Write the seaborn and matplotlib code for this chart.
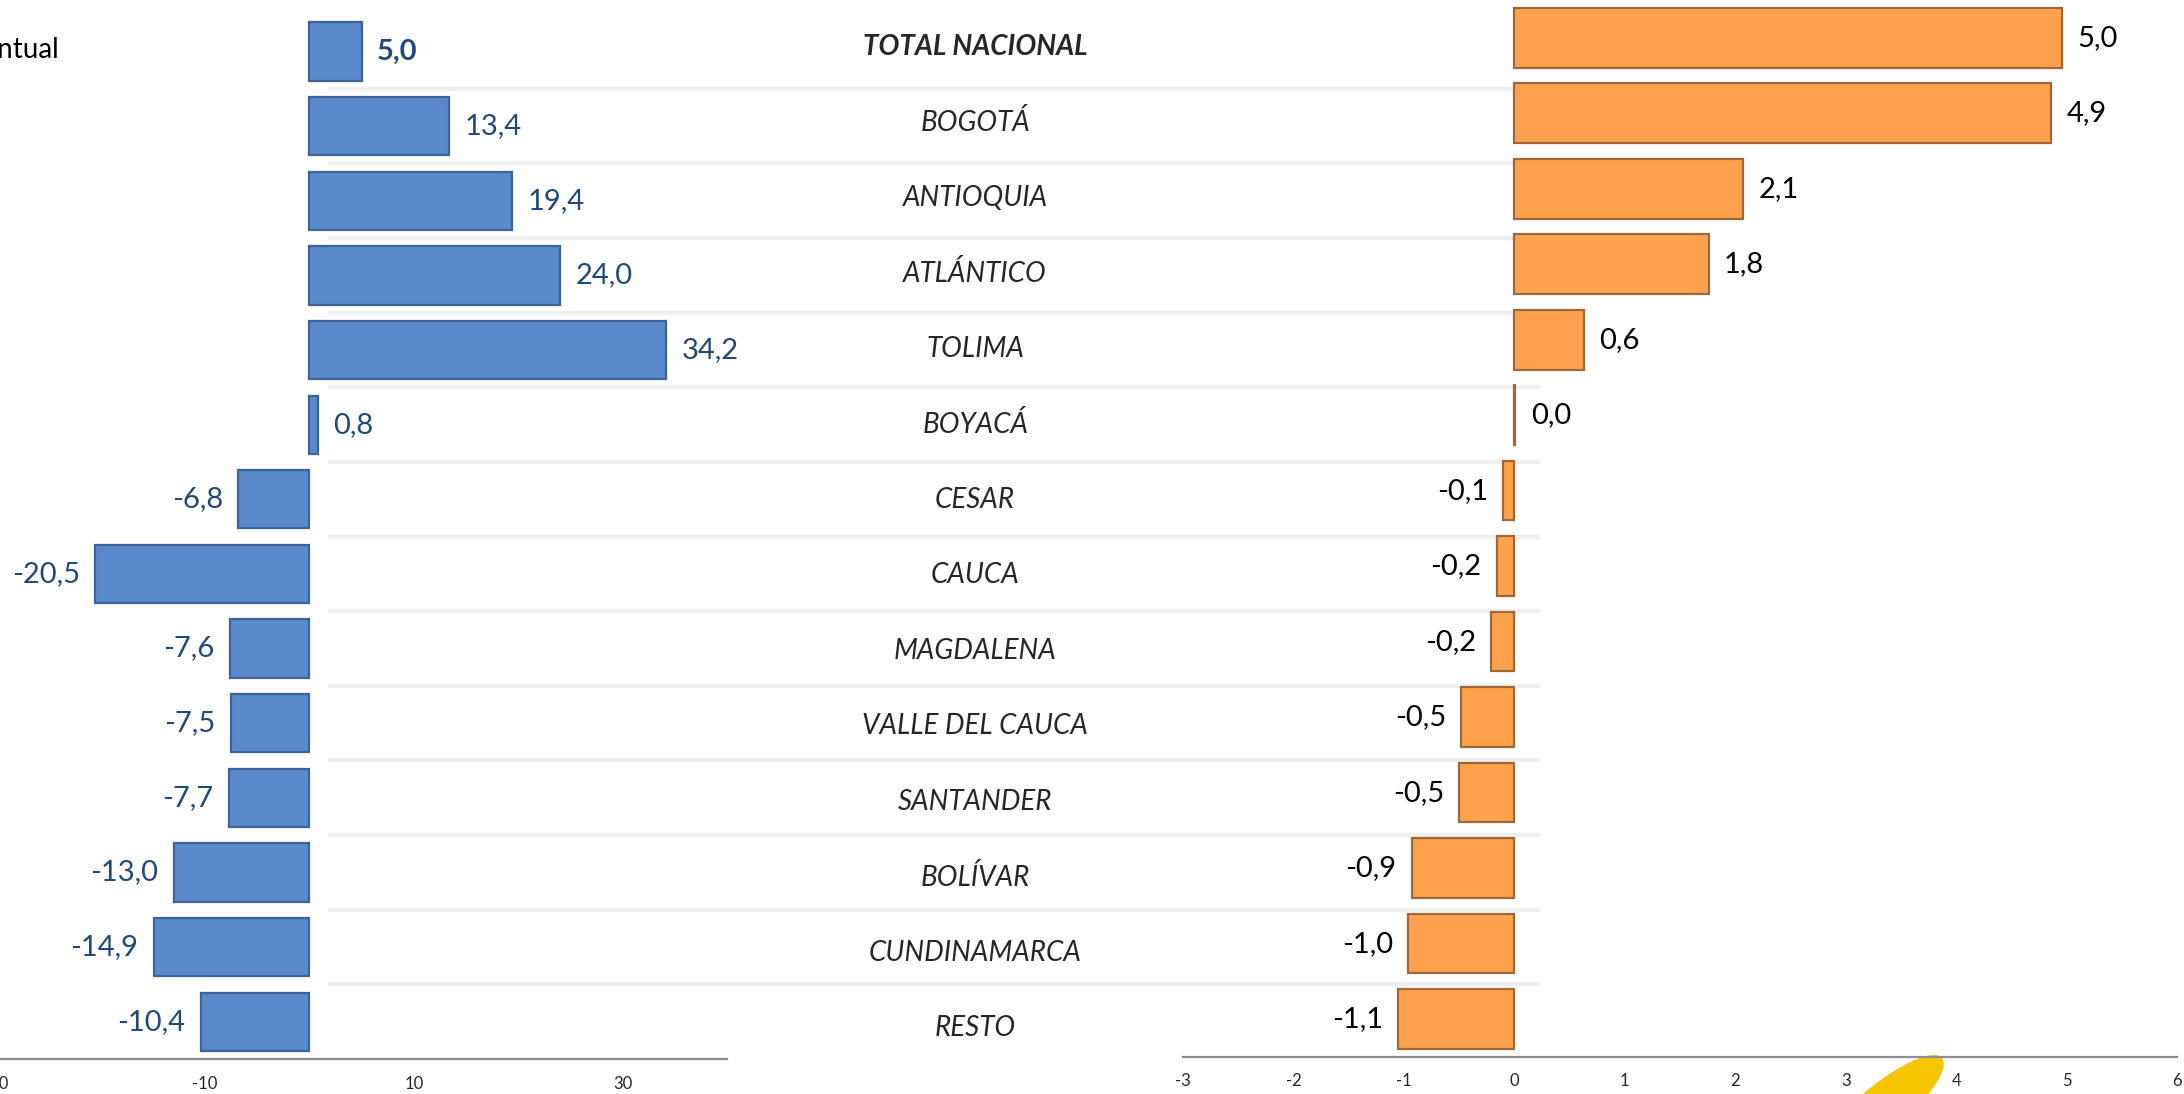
import matplotlib
matplotlib.use("Agg")

import matplotlib.pyplot as plt
import matplotlib.transforms as mtransforms
from matplotlib.patches import Ellipse
import seaborn as sns
import pandas as pd

regions = ["TOTAL NACIONAL", "BOGOTÁ", "ANTIOQUIA", "ATLÁNTICO", "TOLIMA", "BOYACÁ",
           "CESAR", "CAUCA", "MAGDALENA", "VALLE DEL CAUCA", "SANTANDER", "BOLÍVAR",
           "CUNDINAMARCA", "RESTO"]
# variación porcentual (left panel)
var_pct = [5.0, 13.4, 19.4, 24.0, 34.2, 0.8, -6.8, -20.5, -7.6, -7.5, -7.7, -13.0, -14.9, -10.4]
# contribución en puntos porcentuales (right panel)
contrib = [4.96, 4.86, 2.07, 1.76, 0.63, 0.01, -0.10, -0.16, -0.21, -0.48, -0.50, -0.93, -0.96, -1.05]

left_ticks = [-30, -10, 10, 30]
right_ticks = [-3, -2, -1, 0, 1, 2, 3, 4, 5, 6]

df = pd.DataFrame({"region": regions, "var": var_pct, "contrib": contrib})

sns.set_style("white")
plt.rcParams["font.family"] = ["Lato", "DejaVu Sans"]

fig = plt.figure(figsize=(21.84, 10.94), dpi=100)
ax_l = fig.add_axes([-0.0018, 0.032, 0.3347, 0.955])
ax_r = fig.add_axes([0.5417, 0.034, 0.4551, 0.966])

sns.barplot(data=df, x="var", y="region", orient="h", ax=ax_l, color="#5A8ACB",
            width=0.78, edgecolor="#3C6497", linewidth=1.6, saturation=1)
sns.barplot(data=df, x="contrib", y="region", orient="h", ax=ax_r, color="#FFA24D",
            width=0.79, edgecolor="#A0673A", linewidth=1.6, saturation=1)

# faint row separators, kept behind the blue bars
sep = mtransforms.blended_transform_factory(fig.transFigure, ax_l.transData)
for i in range(1, len(regions)):
    ax_l.hlines(i - 0.5, 0.15, 0.705, transform=sep, color="#EFEFEF", lw=3,
                zorder=0, clip_on=False)

n = len(regions)
for ax, ticks, lim in [(ax_l, left_ticks, (-30, 40)), (ax_r, right_ticks, (-3, 6))]:
    ax.set_xlim(*lim)
    ax.set_ylim(n - 0.5, -0.5)
    ax.set_xticks(ticks)
    ax.set_xticklabels([str(t) for t in ticks])
    ax.set_yticks([])
    ax.set_xlabel("")
    ax.set_ylabel("")
    for s in ["top", "right", "left"]:
        ax.spines[s].set_visible(False)
    ax.spines["bottom"].set_color("#8C8C8C")
    ax.spines["bottom"].set_linewidth(1.6)
    ax.tick_params(axis="x", direction="out", length=7, width=1.4, color="#8C8C8C",
                   labelsize=12, pad=5)
    ax.patch.set_alpha(0)

# bar labels
lbl_l = [f"{v:.1f}".replace(".", ",") for v in var_pct]
lbl_r = [f"{v:.1f}".replace(".", ",") for v in contrib]
txt_l = ax_l.bar_label(ax_l.containers[0], labels=lbl_l, padding=11, fontsize=21,
                       color="#1F497D")
txt_l[0].set_fontweight("bold")
ax_r.bar_label(ax_r.containers[0], labels=lbl_r, padding=11, fontsize=21, color="black")

# region names in the middle column
mid = mtransforms.blended_transform_factory(fig.transFigure, ax_r.transData)
for i, name in enumerate(regions):
    ax_r.text(0.4465, i + 0.12, name, transform=mid, ha="center", va="center",
              fontsize=20, style="italic",
              fontweight="bold" if i == 0 else "normal", clip_on=False)

fig.text(0.0268, 1 - 50 / 1094, "Variación porcentual", ha="right", va="center",
         fontsize=20, color="black")

# piece of the logo at the bottom
fig.add_artist(Ellipse((18.8, -0.16), 1.6, 0.45, angle=40,
                       transform=fig.dpi_scale_trans, color="#F6C500", zorder=0))

plt.savefig("out.png", dpi=100)
plt.close()
